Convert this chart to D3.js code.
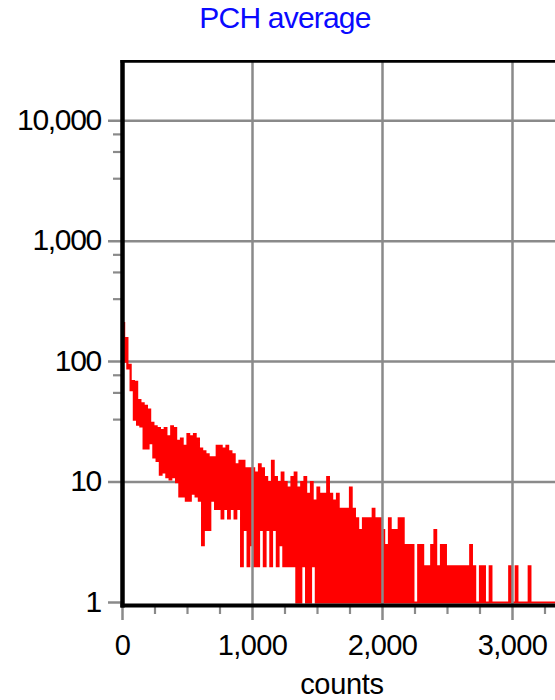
<!DOCTYPE html>
<html>
<head>
<meta charset="utf-8">
<script src="https://cdn.jsdelivr.net/npm/d3@7"></script>
<style>
  body { margin: 0; background: #fff; }
  svg { display: block; }
  text { font-family: "Liberation Sans", Arial, sans-serif; }
</style>
</head>
<body>
<svg id="chart" width="555" height="700"></svg>
<script>
// Photon counting histogram: per 25-count bin, the highest and lowest frequency seen in that bin
const binWidth = 25;
const binPeaks = [
  209, 157, 94, 69, 68, 48, 45, 43, 40, 31,
  29, 28, 27, 28, 24, 29, 28, 22, 23, 20,
  25, 24, 25, 23, 19, 18, 17, 16, 16, 20,
  20, 19, 20, 18, 17, 14, 15, 15, 13, 13,
  13, 12, 14, 13, 11, 10, 15, 11, 10, 12,
  10, 9, 11, 12, 9, 10, 11, 8, 10, 7,
  9, 8, 8, 11, 8, 7, 8, 6, 6, 6,
  9, 6, 5, 4, 5, 5, 5, 6, 5, 5,
  4, 3, 5, 4, 4, 5, 5, 3, 3, 3,
  1, 3, 3, 2, 2, 3, 4, 2, 3, 3,
  2, 2, 2, 2, 2, 2, 2, 3, 2, 1,
  2, 2, 1, 2, 1, 1, 1, 1, 1, 2,
  1, 2, 1, 1, 1, 2, 1, 1, 1, 1,
  1, 1, 1, 1, 1, 1, 1, 1
];
const binDips = [
  100, 88, 58, 33, 30, 29, 19, 19, 21, 16,
  15, 11.5, 12, 11, 10.5, 11, 10, 7.6, 7.6, 7,
  7, 8, 7.6, 7, 3, 4, 4, 7, 6, 6,
  5, 6, 5, 6, 5, 6, 2, 4, 2, 3,
  2, 2, 4, 2, 4, 2, 4, 2, 3, 2,
  2, 2, 2, 1, 1, 2, 1, 1, 2, 1,
  1, 1, 1, 1, 1, 1, 1, 1, 1, 1,
  1, 1, 1, 1, 1, 1, 1, 1, 1, 1,
  1, 1, 1, 1, 1, 1, 1, 1, 1, 1,
  1, 1, 1, 1, 1, 1, 1, 1, 1, 1,
  1, 1, 1, 1, 1, 1, 1, 1, 1, 1,
  1, 1, 1, 1, 1, 1, 1, 1, 1, 1,
  1, 1, 1, 1, 1, 1, 1, 1, 1, 1,
  1, 1, 1, 1, 1, 1, 1, 1
];

const xGridTicks = [0, 1000, 2000, 3000, 4000];
const xTickLabels = [0, 1000, 2000, 3000];
const xMinorTicks = [250, 500, 750, 1250, 1500, 1750, 2250, 2500, 2750, 3250, 3500, 3750];
const yMajorTicks = [1, 10, 100, 1000, 10000];
const yMinorTicks = [7700, 5500, 3300, 770, 550, 330, 77, 55, 33];
const chartTitle = "PCH average";
const xAxisTitle = "counts";

const W = 555, H = 700;
const svg = d3.select("#chart");

const x = d3.scaleLinear().domain([0, 4000]).range([122.5, 642.5]);
const y = d3.scaleLog().domain([1, 31623]).range([602.5, 60.5]);
const fmt = d3.format(",");

const gridColor = "#8a8a8a";
const plotLeft = x(0), plotTop = 61.3, plotBottom = 605.5;

// horizontal grid lines and left major ticks
svg.append("g").selectAll("line").data(yMajorTicks).join("line")
  .attr("x1", 108).attr("x2", d => d === 1 ? plotLeft : W)
  .attr("y1", d => y(d)).attr("y2", d => y(d))
  .attr("stroke", gridColor).attr("stroke-width", 2.5);

// left minor ticks
svg.append("g").selectAll("line").data(yMinorTicks).join("line")
  .attr("x1", 113).attr("x2", plotLeft)
  .attr("y1", d => y(d)).attr("y2", d => y(d))
  .attr("stroke", gridColor).attr("stroke-width", 2.2);

// histogram trace: peak then dip within every bin
const pts = [];
binPeaks.forEach((p, i) => {
  pts.push([i * binWidth + binWidth * 0.25, p]);
  pts.push([i * binWidth + binWidth * 0.75, binDips[i]]);
});
const line = d3.line()
  .x(d => x(d[0]))
  .y(d => y(Math.max(1, d[1])))
  .curve(d3.curveStep);
svg.append("path")
  .datum(pts)
  .attr("d", line)
  .attr("fill", "none")
  .attr("stroke", "#ff0000")
  .attr("stroke-width", 2.2)
  .attr("stroke-linejoin", "miter");

// vertical grid lines and bottom major ticks
svg.append("g").selectAll("line").data(xGridTicks).join("line")
  .attr("x1", d => x(d)).attr("x2", d => x(d))
  .attr("y1", d => d === 0 ? plotBottom : plotTop).attr("y2", 620)
  .attr("stroke", gridColor).attr("stroke-width", 2.5);

// bottom minor ticks
svg.append("g").selectAll("line").data(xMinorTicks).join("line")
  .attr("x1", d => x(d)).attr("x2", d => x(d))
  .attr("y1", plotBottom).attr("y2", 614)
  .attr("stroke", gridColor).attr("stroke-width", 2.2);

// frame
svg.append("line").attr("x1", plotLeft - 2).attr("x2", W)
  .attr("y1", plotTop).attr("y2", plotTop)
  .attr("stroke", "#000").attr("stroke-width", 2.8);
svg.append("line").attr("x1", plotLeft - 2).attr("x2", W)
  .attr("y1", plotBottom).attr("y2", plotBottom)
  .attr("stroke", "#000").attr("stroke-width", 4);
svg.append("line").attr("x1", plotLeft).attr("x2", plotLeft)
  .attr("y1", plotTop - 1.4).attr("y2", plotBottom + 2)
  .attr("stroke", "#000").attr("stroke-width", 4.5);

// y tick labels
svg.append("g").selectAll("text").data(yMajorTicks).join("text")
  .attr("x", 101).attr("y", d => y(d) - 1.5)
  .attr("dy", "0.35em")
  .attr("text-anchor", "end")
  .attr("font-size", 30)
  .attr("letter-spacing", -1.3)
  .attr("fill", "#000")
  .text(d => fmt(d));

// x tick labels
svg.append("g").selectAll("text").data(xTickLabels).join("text")
  .attr("x", d => x(d)).attr("y", 655)
  .attr("text-anchor", "middle")
  .attr("font-size", 29)
  .attr("letter-spacing", -0.6)
  .attr("fill", "#000")
  .text(d => fmt(d));

// axis title
svg.append("text")
  .attr("x", 342).attr("y", 694)
  .attr("text-anchor", "middle")
  .attr("font-size", 29)
  .attr("letter-spacing", -0.3)
  .attr("fill", "#000")
  .text(xAxisTitle);

// chart title
svg.append("text")
  .attr("x", 285).attr("y", 28)
  .attr("text-anchor", "middle")
  .attr("font-size", 30)
  .attr("letter-spacing", -0.8)
  .attr("fill", "#0a0aff")
  .text(chartTitle);
</script>
</body>
</html>
